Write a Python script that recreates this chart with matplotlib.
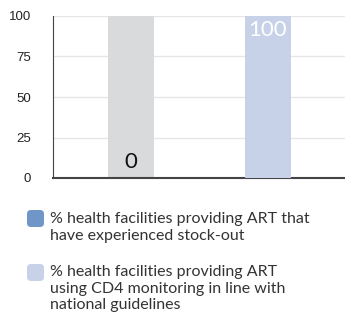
import matplotlib.pyplot as plt
from matplotlib.patches import FancyBboxPatch

# indicator values (percent)
indicators = ['stock-out', 'CD4 monitoring']
values = [0, 100]
legend_labels = [
    '% health facilities providing ART that\nhave experienced stock-out',
    '% health facilities providing ART\nusing CD4 monitoring in line with\nnational guidelines',
]
bar_colors = ['#d9dadb', '#c7d2e8']
legend_colors = ['#7096c8', '#c7d2e8']
label_colors = ['#111111', '#ffffff']
yticks = [0, 25, 50, 75, 100]

fig = plt.figure(figsize=(3.45, 3.2), dpi=100)
ax = fig.add_axes([53 / 345, 142 / 320, 292 / 345, 162 / 320])

x = range(len(indicators))
w = 0.336
# grey track behind the empty bar, value bar on top
ax.bar(x, [100] * len(indicators), width=w, color='#d9dadb', zorder=2)
ax.bar(x, values, width=w, color=bar_colors[1], zorder=3)

for i, v in enumerate(values):
    if v >= 50:
        ax.text(i, v - 2.5, f'{v}', ha='center', va='top', fontsize=16,
                family='Lato', color=label_colors[i], zorder=4)
    else:
        ax.text(i, v + 4, f'{v}', ha='center', va='bottom', fontsize=16,
                family='Lato', color=label_colors[i], zorder=4)

ax.set_xlim(-0.569, 1.562)
ax.set_ylim(0, 100)
ax.set_xticks([])
ax.set_yticks(yticks)
ax.set_yticklabels([str(t) for t in yticks], family='Liberation Sans', fontsize=9.5, color='#222222')
ax.tick_params(axis='y', length=0, pad=16)
ax.grid(axis='y', color='#e6e6e6', linewidth=1, zorder=0)
for s in ['top', 'right']:
    ax.spines[s].set_visible(False)
ax.spines['left'].set_color('#444444')
ax.spines['bottom'].set_color('#444444')
ax.spines['bottom'].set_linewidth(1.5)

# legend drawn below the axes
rows = [(210, 212), (264, 265)]
for (sq_top, txt_top), col, lab in zip(rows, legend_colors, legend_labels):
    fig.patches.append(FancyBboxPatch(
        (27 / 345, 1 - (sq_top + 17) / 320), 17 / 345, 17 / 320,
        boxstyle='round,pad=0,rounding_size=0.012', transform=fig.transFigure,
        facecolor=col, edgecolor='none'))
    fig.text(50 / 345, 1 - txt_top / 320, lab, ha='left', va='top',
             fontsize=11.5, family='Lato', color='#333333', linespacing=1.25)

fig.savefig('out.png', dpi=100)
